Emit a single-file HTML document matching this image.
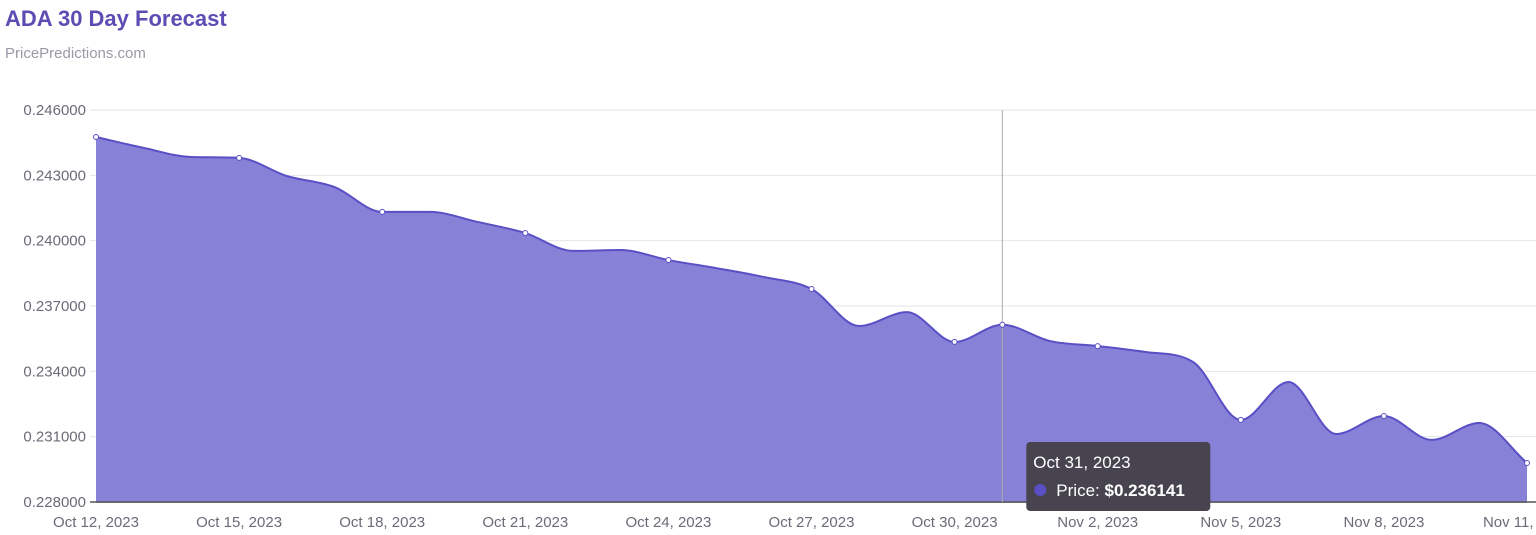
<!DOCTYPE html>
<html><head><meta charset="utf-8"><style>
body{margin:0;width:1536px;height:535px;background:#fff;font-family:"Liberation Sans",sans-serif;overflow:hidden}
#t{position:absolute;left:5px;top:6px;font-size:22px;font-weight:bold;color:#5b4db3}
#s{position:absolute;left:5px;top:45px;font-size:15px;color:#9a9aa6}
svg{position:absolute;left:0;top:0}
</style></head><body>
<div id="t">ADA 30 Day Forecast</div>
<div id="s">PricePredictions.com</div>
<svg id="c" width="1536" height="535"></svg>
<script>
const categories=["Oct 12","Oct 13","Oct 14","Oct 15","Oct 16","Oct 17","Oct 18","Oct 19","Oct 20","Oct 21","Oct 22","Oct 23","Oct 24","Oct 25","Oct 26","Oct 27","Oct 28","Oct 29","Oct 30","Oct 31","Nov 1","Nov 2","Nov 3","Nov 4","Nov 5","Nov 6","Nov 7","Nov 8","Nov 9","Nov 10","Nov 11"];
const prices=[0.24476,0.24426,0.24384,0.24380,0.24297,0.24246,0.24132,0.24132,0.24086,0.24035,0.23953,0.23957,0.23911,0.23874,0.23833,0.23778,0.23608,0.23672,0.23535,0.236141,0.23539,0.23516,0.23489,0.23443,0.23177,0.23351,0.23112,0.23195,0.23085,0.23163,0.22979];
const yTicks=[0.246,0.243,0.240,0.237,0.234,0.231,0.228];
const xTickLabels=["Oct 12, 2023","Oct 15, 2023","Oct 18, 2023","Oct 21, 2023","Oct 24, 2023","Oct 27, 2023","Oct 30, 2023","Nov 2, 2023","Nov 5, 2023","Nov 8, 2023","Nov 11, 2023"];
const hoverIndex=19;
const hoverLabel="Oct 31, 2023";

const NS="http://www.w3.org/2000/svg",svg=document.getElementById('c');
const X0=96,X1=1527,Y0=110,Y1=502,ymin=0.228,ymax=0.246;
const x=i=>X0+(X1-X0)*i/(prices.length-1);
const y=v=>Y1-(v-ymin)/(ymax-ymin)*(Y1-Y0);
function mk(t,a,txt){const e=document.createElementNS(NS,t);for(const k in a)e.setAttribute(k,a[k]);if(txt!=null)e.textContent=txt;svg.appendChild(e);return e;}
yTicks.forEach(v=>{
 const g=mk('line',{x1:90,x2:1536,y1:y(v),y2:y(v),stroke:v===ymin?'#555':'#e6e6ea','stroke-width':v===ymin?1.5:1});
 
 
 const t=mk('text',{x:86,y:y(v)+5,'text-anchor':'end','font-size':15,fill:'#6b6b78'},v.toFixed(6));
 
 
});
xTickLabels.forEach((l,k)=>{
 const t=mk('text',{x:x(k*3),y:527,'text-anchor':'middle','font-size':15,fill:'#6b6b78'},l);
 
 
});
const P=prices.map((v,i)=>[x(i),y(v)]),n=P.length,m=[],d=[];
for(let i=0;i<n-1;i++)d.push((P[i+1][1]-P[i][1])/(P[i+1][0]-P[i][0]));
for(let i=0;i<n;i++){if(i==0)m.push(d[0]);else if(i==n-1)m.push(d[n-2]);else m.push(d[i-1]*d[i]<=0?0:(d[i-1]+d[i])/2);}
for(let i=0;i<n-1;i++){if(d[i]==0){m[i]=m[i+1]=0;continue;}const a=m[i]/d[i],b=m[i+1]/d[i],s=a*a+b*b;if(s>9){const t=3/Math.sqrt(s);m[i]=t*a*d[i];m[i+1]=t*b*d[i];}}
let path=`M${P[0][0]},${P[0][1]}`;
for(let i=0;i<n-1;i++){const h=(P[i+1][0]-P[i][0])/3;path+=` C${P[i][0]+h},${P[i][1]+m[i]*h} ${P[i+1][0]-h},${P[i+1][1]-m[i+1]*h} ${P[i+1][0]},${P[i+1][1]}`;}
const area=mk('path',{d:path+` L${X1},${Y1} L${X0},${Y1} Z`,fill:'#8781d8'});


const line=mk('path',{d:path,fill:'none',stroke:'#5a4fc4','stroke-width':2});


mk('line',{x1:X0,x2:X1,y1:Y1,y2:Y1,stroke:'#555','stroke-width':1.5});
const hx=x(hoverIndex);
const cl=mk('line',{x1:hx,x2:hx,y1:Y0,y2:Y1,stroke:'#aaa','stroke-width':1});


prices.forEach((v,i)=>{if(i%3===0||i===hoverIndex){const c=mk('circle',{cx:x(i),cy:y(v),r:2.5,fill:'#fff',stroke:'#5a4fc4','stroke-width':1});
 
 }});
const r=mk('rect',{x:hx+24,y:442,width:184,height:69,rx:4,fill:'#47444f'});


const td=mk('text',{x:hx+31,y:468,'font-size':17,fill:'#fff'},hoverLabel);


const tc=mk('circle',{cx:hx+38,cy:490,r:6,fill:'#5a4fc4'});


const pt=mk('text',{x:hx+54,y:496,'font-size':17,fill:'#fff'});
pt.innerHTML='Price: <tspan font-weight="bold">$'+prices[hoverIndex].toFixed(6)+'</tspan>';


</script>
</body></html>
